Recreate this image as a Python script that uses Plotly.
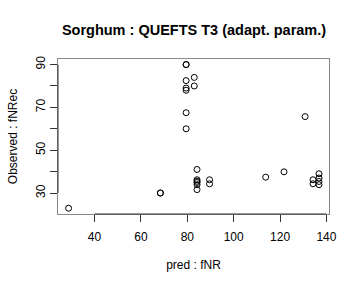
import plotly.graph_objects as go

pred_fNR = [28.8, 68.4, 68.4, 79.5, 79.5, 79.5, 79.5, 79.5, 79.5, 79.5, 83.0, 83.0,
            84.2, 84.2, 84.2, 84.2, 84.2, 84.2, 89.6, 89.6, 113.8, 121.7, 130.8,
            134.2, 134.2, 136.8, 136.8, 136.8, 136.8]
obs_fNRec = [22.9, 30.0, 30.0, 90.0, 90.0, 82.5, 79.0, 78.0, 67.5, 60.0, 84.0, 80.0,
             41.0, 36.2, 35.5, 34.9, 33.9, 31.6, 36.2, 34.3, 37.4, 39.9, 65.7,
             36.2, 34.3, 39.0, 37.0, 35.4, 33.9]

x_ticks = [40, 60, 80, 100, 120, 140]
y_ticks = [30, 40, 50, 60, 70, 80, 90]
y_ticktext = ["30", "", "50", "", "70", "", "90"]

FONT = "Liberation Sans, Arial, Helvetica, sans-serif"

fig = go.Figure()
fig.add_trace(go.Scatter(
    x=pred_fNR, y=obs_fNRec, mode="markers",
    marker=dict(symbol="circle-open", size=6, color="black", line=dict(width=1, color="black")),
    showlegend=False, hoverinfo="skip"))

fig.update_layout(
    width=360, height=288,
    margin=dict(l=58, r=31, t=59, b=74),
    paper_bgcolor="white", plot_bgcolor="white",
    font=dict(family=FONT, size=12, color="black"),
    title=dict(text="<b>Sorghum : QUEFTS T3 (adapt. param.)</b>", x=194/360, xanchor="center",
               y=1 - 30/288, yanchor="middle", font=dict(size=14.5, family=FONT, color="black")),
    xaxis=dict(range=[24.25, 141.1], tickvals=x_ticks, ticks="outside", ticklen=7, tickcolor="#333",
               showgrid=False, zeroline=False, showline=True, mirror=True, linecolor="#888", linewidth=1,
               tickfont=dict(size=12, color="black"), ticklabelstandoff=5,
               title=dict(text="pred : fNR", font=dict(size=12), standoff=17)),
    yaxis=dict(range=[20.2, 92.6], tickvals=y_ticks, ticktext=y_ticktext, tickangle=-90,
               ticks="outside", ticklen=7, tickcolor="#333",
               showgrid=False, zeroline=False, showline=True, mirror=True, linecolor="#888", linewidth=1,
               tickfont=dict(size=12, color="black"), ticklabelstandoff=0,
               title=dict(text="Observed : fNRec", font=dict(size=12), standoff=14)),
)

# R-style axis lines spanning first to last tick
fig.add_shape(type="line", xref="x", yref="paper", x0=x_ticks[0], x1=x_ticks[-1], y0=0, y1=0,
              line=dict(color="#333", width=1))
fig.add_shape(type="line", xref="paper", yref="y", x0=0, x1=0, y0=y_ticks[0], y1=y_ticks[-1],
              line=dict(color="#333", width=1))

fig.write_html("out.html")
